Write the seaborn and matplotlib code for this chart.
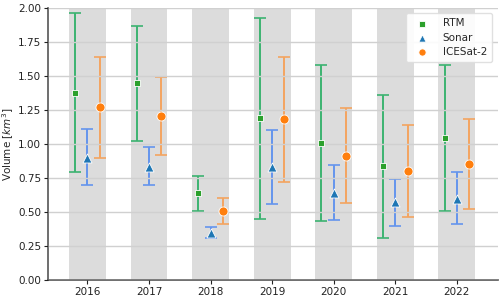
import matplotlib
matplotlib.use("Agg")
import matplotlib.pyplot as plt
import seaborn as sns
import numpy as np
import pandas as pd

years = [2016, 2017, 2018, 2019, 2020, 2021, 2022]

rtm_val = [1.377, 1.446, 0.637, 1.189, 1.008, 0.838, 1.044]
rtm_low = [0.792, 1.022, 0.507, 0.446, 0.436, 0.309, 0.505]
rtm_high = [1.961, 1.868, 0.767, 1.929, 1.578, 1.363, 1.578]

sonar_val = [0.900, 0.833, 0.345, 0.828, 0.642, 0.570, 0.597]
sonar_low = [0.699, 0.699, 0.307, 0.561, 0.441, 0.395, 0.409]
sonar_high = [1.110, 0.978, 0.387, 1.105, 0.848, 0.743, 0.794]

ice_val = [1.270, 1.206, 0.507, 1.181, 0.914, 0.804, 0.853]
ice_low = [0.900, 0.919, 0.409, 0.721, 0.564, 0.461, 0.520]
ice_high = [1.637, 1.493, 0.605, 1.637, 1.265, 1.142, 1.184]

sns.set_style("whitegrid")
plt.rcParams['font.family'] = ['DejaVu Sans']

fig = plt.figure(figsize=(5.0, 2.99), dpi=100)
ax = fig.add_axes([0.096, 0.064, 0.899, 0.909])

for y in years:
    ax.axvspan(y - 0.3, y + 0.3, color='#dcdcdc', zorder=0, lw=0)

series = [
    ("RTM", rtm_val, rtm_low, rtm_high, -0.2, 's', '#2ca02c', '#3cb371', 5.0),
    ("Sonar", sonar_val, sonar_low, sonar_high, 0.0, '^', '#1f77b4', '#6495ed', 6.5),
    ("ICESat-2", ice_val, ice_low, ice_high, 0.2, 'o', '#ff7f0e', '#f4a460', 6.5),
]

for name, val, lo, hi, off, mk, mc, ec, ms in series:
    x = np.array(years) + off
    v = np.array(val)
    err = np.vstack([v - np.array(lo), np.array(hi) - v])
    ax.errorbar(x, v, yerr=err, fmt='none', ecolor=ec, elinewidth=1.4,
                capsize=4, capthick=1.2, zorder=2)
    df = pd.DataFrame({"x": x, "v": v})
    sns.scatterplot(data=df, x="x", y="v", marker=mk, color=mc, s=ms**2,
                    edgecolor='white', linewidth=0.6, zorder=3, label=name, ax=ax)

ax.set_ylim(0, 2.0)
ax.set_yticks(np.arange(0, 2.01, 0.25))
ax.yaxis.set_major_formatter(matplotlib.ticker.FormatStrFormatter('%.2f'))
ax.set_xticks(years)
ax.set_xticklabels([str(y) for y in years])
ax.set_xlim(2015.36, 2022.66)
ax.grid(axis='x', visible=False)
ax.grid(axis='y', color='#d0d0d0', lw=1.0, zorder=1)
ax.set_axisbelow(False)
for g in ax.get_ygridlines():
    g.set_zorder(1)

ax.set_xlabel("")
ax.set_ylabel("Volume [$km^3$]", fontsize=7.5, labelpad=2)
ax.yaxis.set_label_coords(-0.072, 0.5)
ax.tick_params(axis='both', labelsize=7.5, colors='#222222', length=3, width=0.8,
               bottom=True, left=True, pad=2)
for s in ['top', 'right']:
    ax.spines[s].set_visible(False)
for s in ['left', 'bottom']:
    ax.spines[s].set_color('#555555')
    ax.spines[s].set_linewidth(1.2)

leg = ax.legend(loc='upper right', fontsize=7.5, frameon=True, framealpha=0.9,
                edgecolor='#dddddd', handletextpad=1.0, borderpad=0.5, labelspacing=0.4,
                markerscale=0.8)

fig.savefig("out.png", dpi=100)
